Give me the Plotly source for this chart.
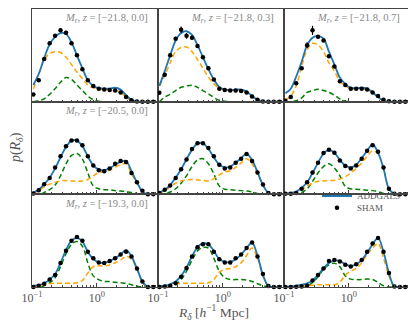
import plotly.graph_objects as go
from plotly.subplots import make_subplots

# R_delta sample points [h^-1 Mpc]
r_delta = [0.105, 0.127, 0.154, 0.187, 0.227, 0.275, 0.334, 0.406, 0.492, 0.597, 0.724, 0.879,
           1.067, 1.294, 1.570, 1.905, 2.312, 2.805, 3.404, 4.130, 5.012, 6.081, 7.379]

# panel labels (magnitude cut, redshift), empty where the panel has no label
mag_cuts = ["\u221221.8", "\u221221.8", "\u221221.8", "\u221220.5", "", "", "\u221219.3", "", ""]
z_cuts = ["0.0", "0.3", "0.7", "0.0", "", "", "0.0", "", ""]

# row 1
sham_r1c1 = [0.078, 0.23, 0.46, 0.63, 0.71, 0.77, 0.745, 0.63, 0.50, 0.35, 0.23, 0.17, 0.14, 0.13, 0.125, 0.12, 0.10, 0.05, 0.014, 0.003, 0, 0, 0]
err_r1c1 = [0.01, 0.01, 0.015, 0.015, 0.015, 0.02, 0.02, 0.015, 0.01, 0.01, 0.01, 0.005, 0.005, 0.005, 0.005, 0.005, 0.005, 0.005, 0, 0, 0, 0, 0]
addgals_r1c1 = [0.18, 0.30, 0.47, 0.62, 0.70, 0.74, 0.73, 0.64, 0.50, 0.36, 0.23, 0.17, 0.145, 0.14, 0.14, 0.15, 0.13, 0.07, 0.02, 0.003, 0, 0, 0]
orange_r1c1 = [0.14, 0.30, 0.45, 0.52, 0.54, 0.53, 0.48, 0.40, 0.32, 0.25, 0.18, 0.15, 0.135, 0.13, 0.125, 0.12, 0.10, 0.05, 0.01, 0, 0, 0, 0]
green_r1c1 = [0, 0.01, 0.03, 0.08, 0.14, 0.21, 0.26, 0.24, 0.18, 0.12, 0.06, 0.02, 0.005, 0, 0, 0, 0, 0, 0, 0, 0, 0, 0]

sham_r1c2 = [0.096, 0.29, 0.50, 0.68, 0.777, 0.71, 0.69, 0.60, 0.48, 0.36, 0.24, 0.14, 0.125, 0.12, 0.12, 0.115, 0.10, 0.055, 0.02, 0.003, 0, 0, 0]
err_r1c2 = [0.01, 0.015, 0.015, 0.02, 0.035, 0.03, 0.02, 0.015, 0.01, 0.01, 0.01, 0.005, 0.005, 0.005, 0.005, 0.005, 0.005, 0.005, 0, 0, 0, 0, 0]
addgals_r1c2 = [0.17, 0.33, 0.50, 0.66, 0.74, 0.76, 0.72, 0.61, 0.48, 0.35, 0.24, 0.16, 0.13, 0.125, 0.13, 0.13, 0.11, 0.06, 0.02, 0.003, 0, 0, 0]
orange_r1c2 = [0.17, 0.28, 0.42, 0.54, 0.585, 0.59, 0.54, 0.455, 0.36, 0.265, 0.195, 0.145, 0.125, 0.12, 0.125, 0.125, 0.10, 0.055, 0.015, 0, 0, 0, 0]
green_r1c2 = [0, 0.05, 0.08, 0.12, 0.155, 0.17, 0.178, 0.155, 0.12, 0.085, 0.045, 0.015, 0.005, 0, 0, 0, 0, 0, 0, 0, 0, 0, 0]

sham_r1c3 = [0.01, 0.05, 0.20, 0.36, 0.61, 0.77, 0.70, 0.66, 0.49, 0.38, 0.22, 0.18, 0.14, 0.14, 0.14, 0.13, 0.10, 0.06, 0.02, 0.005, 0, 0, 0]
err_r1c3 = [0.005, 0.01, 0.01, 0.015, 0.03, 0.05, 0.02, 0.015, 0.015, 0.01, 0.01, 0.005, 0.005, 0.005, 0.005, 0.005, 0.005, 0.005, 0, 0, 0, 0, 0]
addgals_r1c3 = [0.09, 0.14, 0.27, 0.43, 0.61, 0.69, 0.71, 0.68, 0.54, 0.40, 0.26, 0.19, 0.15, 0.145, 0.15, 0.14, 0.10, 0.05, 0.01, 0, 0, 0, 0]
orange_r1c3 = [0.02, 0.06, 0.17, 0.38, 0.56, 0.63, 0.61, 0.54, 0.42, 0.33, 0.22, 0.17, 0.14, 0.14, 0.14, 0.13, 0.10, 0.05, 0.01, 0, 0, 0, 0]
green_r1c3 = [0, 0, 0.01, 0.04, 0.10, 0.12, 0.135, 0.12, 0.10, 0.07, 0.03, 0.005, 0, 0, 0, 0, 0, 0, 0, 0, 0, 0, 0]

# row 2
sham_r2c1 = [0.01, 0.045, 0.11, 0.175, 0.29, 0.41, 0.52, 0.58, 0.58, 0.53, 0.41, 0.31, 0.26, 0.25, 0.28, 0.33, 0.36, 0.35, 0.23, 0.13, 0.04, 0, 0]
err_r2c1 = [0.005, 0.005, 0.005, 0.01, 0.01, 0.01, 0.01, 0.01, 0.01, 0.01, 0.01, 0.01, 0.01, 0.01, 0.01, 0.01, 0.01, 0.01, 0.01, 0.005, 0.005, 0, 0]
addgals_r2c1 = [0.02, 0.05, 0.11, 0.18, 0.28, 0.40, 0.51, 0.58, 0.58, 0.52, 0.41, 0.31, 0.27, 0.26, 0.28, 0.32, 0.35, 0.36, 0.25, 0.13, 0.03, 0, 0]
orange_r2c1 = [0.01, 0.04, 0.08, 0.11, 0.13, 0.145, 0.15, 0.145, 0.14, 0.145, 0.16, 0.20, 0.235, 0.245, 0.26, 0.29, 0.32, 0.33, 0.22, 0.12, 0.03, 0, 0]
green_r2c1 = [0, 0, 0.02, 0.05, 0.10, 0.20, 0.33, 0.42, 0.44, 0.38, 0.23, 0.09, 0.06, 0.05, 0.05, 0.04, 0.035, 0.03, 0.02, 0.01, 0, 0, 0]

sham_r2c2 = [0.014, 0.05, 0.095, 0.175, 0.27, 0.375, 0.49, 0.55, 0.55, 0.50, 0.41, 0.32, 0.28, 0.29, 0.34, 0.385, 0.435, 0.36, 0.235, 0.105, 0.015, 0, 0]
err_r2c2 = [0.005, 0.005, 0.005, 0.01, 0.01, 0.01, 0.01, 0.01, 0.01, 0.01, 0.01, 0.01, 0.01, 0.01, 0.01, 0.01, 0.01, 0.01, 0.01, 0.005, 0.005, 0, 0]
addgals_r2c2 = [0.02, 0.05, 0.10, 0.18, 0.27, 0.38, 0.48, 0.55, 0.55, 0.49, 0.40, 0.32, 0.29, 0.30, 0.34, 0.39, 0.44, 0.37, 0.24, 0.10, 0.015, 0, 0]
orange_r2c2 = [0.01, 0.04, 0.08, 0.12, 0.145, 0.155, 0.16, 0.155, 0.15, 0.145, 0.17, 0.21, 0.24, 0.255, 0.29, 0.34, 0.385, 0.33, 0.22, 0.10, 0.015, 0, 0]
green_r2c2 = [0, 0.005, 0.025, 0.06, 0.12, 0.20, 0.30, 0.37, 0.385, 0.33, 0.22, 0.09, 0.055, 0.05, 0.045, 0.04, 0.035, 0.025, 0.01, 0, 0, 0, 0]

sham_r2c3 = [0.005, 0.005, 0.015, 0.06, 0.13, 0.235, 0.34, 0.445, 0.48, 0.45, 0.365, 0.305, 0.28, 0.31, 0.385, 0.47, 0.53, 0.46, 0.29, 0.06, 0.005, 0, 0]
err_r2c3 = [0, 0, 0.005, 0.005, 0.01, 0.01, 0.01, 0.01, 0.01, 0.01, 0.01, 0.01, 0.01, 0.01, 0.01, 0.01, 0.015, 0.01, 0.01, 0.005, 0, 0, 0]
addgals_r2c3 = [0.01, 0.015, 0.03, 0.07, 0.13, 0.23, 0.34, 0.44, 0.48, 0.45, 0.37, 0.31, 0.29, 0.32, 0.39, 0.47, 0.54, 0.45, 0.28, 0.06, 0.005, 0, 0]
orange_r2c3 = [0, 0.005, 0.02, 0.05, 0.09, 0.12, 0.14, 0.145, 0.15, 0.15, 0.165, 0.19, 0.23, 0.28, 0.34, 0.41, 0.47, 0.44, 0.28, 0.055, 0, 0, 0]
green_r2c3 = [0, 0, 0.005, 0.02, 0.06, 0.14, 0.23, 0.30, 0.33, 0.285, 0.20, 0.085, 0.06, 0.055, 0.05, 0.045, 0.04, 0.03, 0.01, 0, 0, 0, 0]

# row 3
sham_r3c1 = [0, 0.014, 0.035, 0.08, 0.13, 0.26, 0.39, 0.50, 0.54, 0.50, 0.38, 0.31, 0.265, 0.26, 0.28, 0.31, 0.35, 0.38, 0.33, 0.20, 0.06, 0, 0]
err_r3c1 = [0, 0.005, 0.005, 0.005, 0.01, 0.01, 0.01, 0.01, 0.01, 0.01, 0.01, 0.01, 0.01, 0.01, 0.01, 0.01, 0.01, 0.01, 0.01, 0.005, 0.005, 0, 0]
addgals_r3c1 = [0.015, 0.02, 0.04, 0.08, 0.14, 0.26, 0.40, 0.50, 0.53, 0.49, 0.38, 0.30, 0.265, 0.26, 0.28, 0.31, 0.35, 0.40, 0.33, 0.20, 0.06, 0, 0]
orange_r3c1 = [0, 0.01, 0.025, 0.035, 0.04, 0.04, 0.04, 0.04, 0.045, 0.07, 0.15, 0.22, 0.23, 0.225, 0.24, 0.26, 0.29, 0.33, 0.30, 0.19, 0.05, 0, 0]
green_r3c1 = [0, 0, 0.014, 0.045, 0.10, 0.22, 0.36, 0.46, 0.49, 0.44, 0.26, 0.12, 0.08, 0.06, 0.06, 0.05, 0.045, 0.04, 0.025, 0.01, 0, 0, 0]

sham_r3c2 = [0, 0.005, 0.014, 0.04, 0.11, 0.205, 0.33, 0.43, 0.46, 0.46, 0.38, 0.30, 0.265, 0.265, 0.31, 0.35, 0.42, 0.48, 0.33, 0.14, 0.01, 0, 0]
err_r3c2 = [0, 0, 0.005, 0.005, 0.01, 0.01, 0.01, 0.01, 0.01, 0.01, 0.01, 0.01, 0.01, 0.01, 0.01, 0.01, 0.01, 0.01, 0.01, 0.005, 0, 0, 0]
addgals_r3c2 = [0.01, 0.015, 0.03, 0.06, 0.12, 0.21, 0.33, 0.43, 0.47, 0.46, 0.39, 0.30, 0.27, 0.27, 0.30, 0.35, 0.42, 0.48, 0.34, 0.13, 0.01, 0, 0]
orange_r3c2 = [0, 0.005, 0.015, 0.03, 0.04, 0.04, 0.04, 0.04, 0.04, 0.045, 0.08, 0.16, 0.19, 0.20, 0.22, 0.26, 0.34, 0.42, 0.31, 0.12, 0.01, 0, 0]
green_r3c2 = [0, 0, 0.01, 0.03, 0.08, 0.17, 0.29, 0.39, 0.425, 0.42, 0.31, 0.17, 0.10, 0.08, 0.08, 0.08, 0.075, 0.06, 0.035, 0.014, 0, 0, 0]

sham_r3c3 = [0, 0, 0.002, 0.005, 0.014, 0.07, 0.13, 0.20, 0.28, 0.29, 0.275, 0.24, 0.22, 0.245, 0.29, 0.38, 0.47, 0.53, 0.38, 0.15, 0.005, 0, 0]
err_r3c3 = [0, 0, 0, 0, 0.005, 0.005, 0.01, 0.01, 0.01, 0.01, 0.01, 0.01, 0.01, 0.01, 0.01, 0.01, 0.01, 0.015, 0.01, 0.005, 0, 0, 0]
addgals_r3c3 = [0.003, 0.006, 0.012, 0.025, 0.04, 0.07, 0.13, 0.20, 0.26, 0.285, 0.28, 0.245, 0.225, 0.245, 0.29, 0.37, 0.46, 0.53, 0.38, 0.15, 0.005, 0, 0]
orange_r3c3 = [0, 0, 0.003, 0.01, 0.015, 0.02, 0.025, 0.025, 0.025, 0.025, 0.05, 0.13, 0.17, 0.20, 0.26, 0.35, 0.42, 0.47, 0.31, 0.12, 0.003, 0, 0]
green_r3c3 = [0, 0, 0, 0, 0.005, 0.05, 0.11, 0.19, 0.24, 0.255, 0.22, 0.12, 0.085, 0.08, 0.08, 0.085, 0.08, 0.05, 0.014, 0, 0, 0, 0]

panels = [
    (sham_r1c1, err_r1c1, addgals_r1c1, orange_r1c1, green_r1c1),
    (sham_r1c2, err_r1c2, addgals_r1c2, orange_r1c2, green_r1c2),
    (sham_r1c3, err_r1c3, addgals_r1c3, orange_r1c3, green_r1c3),
    (sham_r2c1, err_r2c1, addgals_r2c1, orange_r2c1, green_r2c1),
    (sham_r2c2, err_r2c2, addgals_r2c2, orange_r2c2, green_r2c2),
    (sham_r2c3, err_r2c3, addgals_r2c3, orange_r2c3, green_r2c3),
    (sham_r3c1, err_r3c1, addgals_r3c1, orange_r3c1, green_r3c1),
    (sham_r3c2, err_r3c2, addgals_r3c2, orange_r3c2, green_r3c2),
    (sham_r3c3, err_r3c3, addgals_r3c3, orange_r3c3, green_r3c3),
]

FONT = "Liberation Serif"
TEXT = "#555555"
FRAME = "#444444"

fig = make_subplots(rows=3, cols=3, shared_xaxes=True, shared_yaxes=True,
                    horizontal_spacing=0, vertical_spacing=0)

for i, (sham, err, addgals, orange, green) in enumerate(panels):
    row, col = i // 3 + 1, i % 3 + 1
    last = i == 8
    fig.add_trace(go.Scatter(x=r_delta, y=green, mode="lines", line_shape="spline",
                             line=dict(color="#008000", width=1.5, dash="5px,3px"),
                             showlegend=False, hoverinfo="skip"), row=row, col=col)
    fig.add_trace(go.Scatter(x=r_delta, y=orange, mode="lines", line_shape="spline",
                             line=dict(color="#FFA500", width=1.5, dash="5px,3px"),
                             showlegend=False, hoverinfo="skip"), row=row, col=col)
    fig.add_trace(go.Scatter(x=r_delta, y=addgals, mode="lines", line_shape="spline",
                             line=dict(color="#1f77b4", width=1.8),
                             name="ADDGALS", showlegend=last, legend="legend"),
                  row=row, col=col)
    fig.add_trace(go.Scatter(x=r_delta, y=sham, mode="markers",
                             marker=dict(color="black", size=4.5),
                             error_y=dict(type="data", array=err, color="black",
                                          thickness=1.2, width=0),
                             cliponaxis=False,
                             name="SHAM", showlegend=last, legend="legend2"),
                  row=row, col=col)
    if mag_cuts[i]:
        fig.add_annotation(row=row, col=col, xref="x domain", yref="y domain",
                           x=0.245, y=0.985, xanchor="left", yanchor="top",
                           showarrow=False,
                           text=f"<i>M<sub>r</sub></i>, <i>z</i> = [{mag_cuts[i]}, {z_cuts[i]}]",
                           font=dict(family=FONT, size=10.5, color="#888888"))

minor_vals = [0.2, 0.3, 0.4, 0.5, 0.6, 0.7, 0.8, 0.9, 2, 3, 4, 5, 6, 7, 8]
fig.update_xaxes(type="log", range=[-1, 0.94],
                 tickvals=[0.1, 1], ticktext=["10<sup>\u22121</sup>", "10<sup>0</sup>"],
                 ticks="inside", ticklen=4, tickcolor=FRAME,
                 minor=dict(tickvals=minor_vals, ticks="inside", ticklen=2, tickcolor=FRAME),
                 showline=True, mirror=True, linecolor=FRAME, linewidth=1,
                 showgrid=False, zeroline=False,
                 tickfont=dict(family=FONT, size=12, color=TEXT))
fig.update_yaxes(range=[0, 1], showticklabels=False, ticks="",
                 showline=True, mirror=True, linecolor=FRAME, linewidth=1,
                 showgrid=False, zeroline=False)

fig.add_annotation(xref="paper", yref="paper", x=0.48, y=-0.09, yanchor="middle",
                   showarrow=False,
                   text="<i>R<sub>\u03b4</sub></i> [<i>h</i><sup>\u22121</sup> Mpc]",
                   font=dict(family=FONT, size=13.5, color=TEXT))
fig.add_annotation(xref="paper", yref="paper", x=-0.042, y=0.5, xanchor="center",
                   yanchor="middle", showarrow=False, textangle=-90,
                   text="<i>p</i>(<i>R<sub>\u03b4</sub></i>)",
                   font=dict(family=FONT, size=14, color=TEXT))

legend_style = dict(xanchor="left", yanchor="middle", yref="container",
                    bgcolor="rgba(255,255,255,0)",
                    font=dict(family=FONT, size=9, color=TEXT), itemwidth=30)

# the page body adds an 8px offset, so the figure is 8px smaller than the window
fig.update_layout(
    width=408, height=317,
    margin=dict(l=24, r=6, t=1, b=38, autoexpand=False),
    plot_bgcolor="white", paper_bgcolor="white",
    legend=dict(x=0.754, y=0.407, **legend_style),
    legend2=dict(x=0.754, y=0.370, **legend_style),
)

fig.write_html("out.html")
